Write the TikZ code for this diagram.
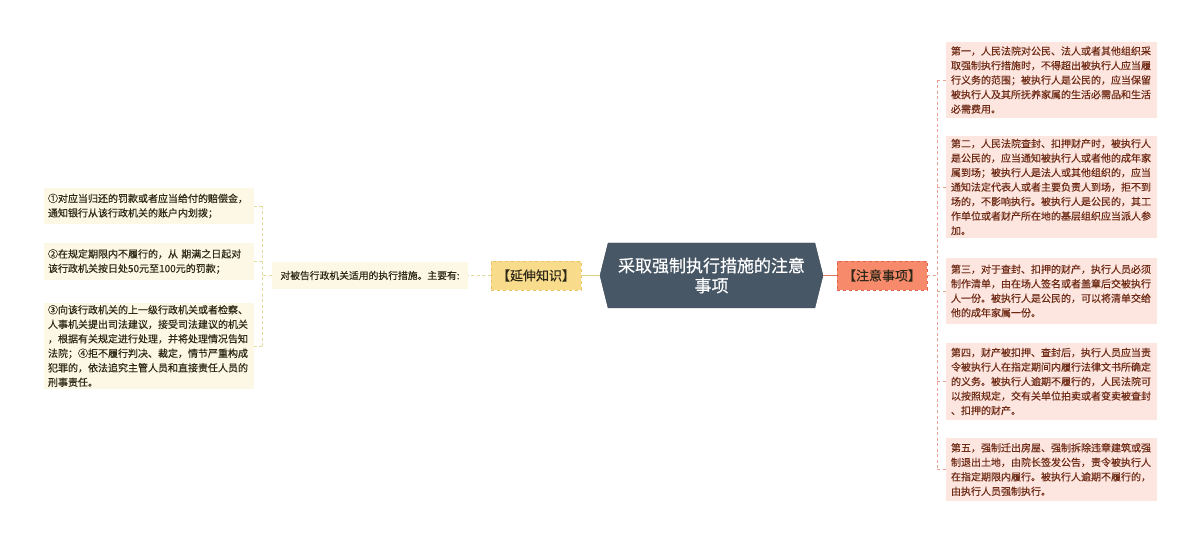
\documentclass[tikz,border=0pt]{standalone}
\usepackage{fontspec}
\setmainfont[FakeBold=0.35]{Noto Sans CJK SC}
\usetikzlibrary{shapes.symbols}
\definecolor{hubfill}{HTML}{485766}
\definecolor{hubdraw}{HTML}{3A4756}
\definecolor{coral}{HTML}{F88A6C}
\definecolor{coraldraw}{HTML}{E0644C}
\definecolor{gold}{HTML}{F8DC8C}
\definecolor{golddraw}{HTML}{E8C466}
\definecolor{pinkleaf}{HTML}{FDE6E0}
\definecolor{creamleaf}{HTML}{FDF7E6}
\definecolor{redtext}{HTML}{6E2A14}
\definecolor{darktext}{HTML}{2E2818}
\definecolor{rline}{HTML}{E8A292}
\definecolor{lline}{HTML}{E0DC9C}
\definecolor{lsolid}{HTML}{DDD27C}
\definecolor{rsolid}{HTML}{E07A5E}
\begin{document}
\begin{tikzpicture}[x=1pt,y=-1pt,
  hub/.style={signal, signal to=west and east, signal pointer angle=152,
    minimum width=223pt, minimum height=65pt, inner sep=0pt,
    fill=hubfill, draw=hubdraw, text=white, align=center,
    font=\fontsize{17}{20}\selectfont},
  catR/.style={minimum width=90pt, minimum height=29pt, inner sep=0pt,
    fill=coral, draw=coraldraw, dashed, text=darktext,
    font=\fontsize{13}{15}\selectfont},
  catL/.style={minimum width=90pt, minimum height=29pt, inner sep=0pt,
    fill=gold, draw=golddraw, dashed, text=darktext,
    font=\fontsize{13}{15}\selectfont},
  midbox/.style={minimum width=196pt, minimum height=27pt, inner sep=0pt,
    fill=creamleaf, text=darktext, font=\fontsize{9.8}{12}\selectfont},
  rleaf/.style={minimum width=211pt, text width=201pt, inner xsep=5pt, inner ysep=2pt,
    fill=pinkleaf, text=redtext, align=left,
    font=\fontsize{10}{14.5}\selectfont},
  lleaf/.style={minimum width=210pt, text width=202pt, inner xsep=4pt, inner ysep=2pt,
    fill=creamleaf, text=darktext, align=left,
    font=\fontsize{10}{14.5}\selectfont},
  rdash/.style={draw=rline, line width=0.9pt, dash pattern=on 3pt off 2.5pt},
  ldash/.style={draw=lline, line width=0.9pt, dash pattern=on 3pt off 2.5pt}]
\fill[white] (0,0) rectangle (1200,545);
\useasboundingbox (0,0) rectangle (1200,545);

\node[hub] (c) at (711.5,275.5) {采取强制执行措施的注意\\事项};
\node[catR] (z) at (882,275.5) {【注意事项】};
\node[catL] (y) at (536,275.5) {【延伸知识】};
\node[midbox] (t) at (370,275.5) {对被告行政机关适用的执行措施。主要有:};

\node[rleaf, minimum height=76pt] (r1) at (1051.5,80) {第一，人民法院对公民、法人或者其他组织采\\取强制执行措施时，不得超出被执行人应当履\\行义务的范围；被执行人是公民的，应当保留\\被执行人及其所抚养家属的生活必需品和生活\\必需费用。};
\node[rleaf, minimum height=102pt] (r2) at (1051.5,187) {第二，人民法院查封、扣押财产时，被执行人\\是公民的，应当通知被执行人或者他的成年家\\属到场；被执行人是法人或其他组织的，应当\\通知法定代表人或者主要负责人到场，拒不到\\场的，不影响执行。被执行人是公民的，其工\\作单位或者财产所在地的基层组织应当派人参\\加。};
\node[rleaf, minimum height=66pt] (r3) at (1051.5,291) {第三，对于查封、扣押的财产，执行人员必须\\制作清单，由在场人签名或者盖章后交被执行\\人一份。被执行人是公民的，可以将清单交给\\他的成年家属一份。};
\node[rleaf, minimum height=77pt] (r4) at (1051.5,381.5) {第四，财产被扣押、查封后，执行人员应当责\\令被执行人在指定期间内履行法律文书所确定\\的义务。被执行人逾期不履行的，人民法院可\\以按照规定，交有关单位拍卖或者变卖被查封\\、扣押的财产。};
\node[rleaf, minimum height=63pt] (r5) at (1051.5,469.5) {第五，强制迁出房屋、强制拆除违章建筑或强\\制退出土地，由院长签发公告，责令被执行人\\在指定期限内履行。被执行人逾期不履行的，\\由执行人员强制执行。};

\node[lleaf, minimum height=36pt] (l1) at (149,206) {①对应当归还的罚款或者应当给付的赔偿金，\\通知银行从该行政机关的账户内划拨；};
\node[lleaf, minimum height=37pt] (l2) at (149,261.5) {②在规定期限内不履行的，从 期满之日起对\\该行政机关按日处50元至100元的罚款；};
\node[lleaf, minimum height=86pt] (l3) at (149,346) {③向该行政机关的上一级行政机关或者检察、\\人事机关提出司法建议，接受司法建议的机关\\，根据有关规定进行处理，并将处理情况告知\\法院；④拒不履行判决、裁定，情节严重构成\\犯罪的，依法追究主管人员和直接责任人员的\\刑事责任。};

% right side connectors
\draw[draw=rsolid, line width=1pt] (c.east) -- (z.west);
\coordinate (rb) at (937,275.5);
\draw[rdash] (z.east) -- (rb);
\draw[rdash] (rb |- r1.west) -- (rb |- r5.west);
\foreach \i in {1,...,5} {\draw[rdash] (rb |- r\i.west) -- (r\i.west);}

% left side connectors
\draw[draw=lsolid, line width=1pt] (c.west) -- (y.east);
\draw[ldash] (y.west) -- (t.east);
\coordinate (lb) at (262,275.5);
\draw[ldash] (t.west) -- (lb);
\draw[ldash] (lb |- l1.east) -- (lb |- l3.east);
\foreach \i in {1,2,3} {\draw[ldash] (lb |- l\i.east) -- (l\i.east);}
\end{tikzpicture}
\end{document}
